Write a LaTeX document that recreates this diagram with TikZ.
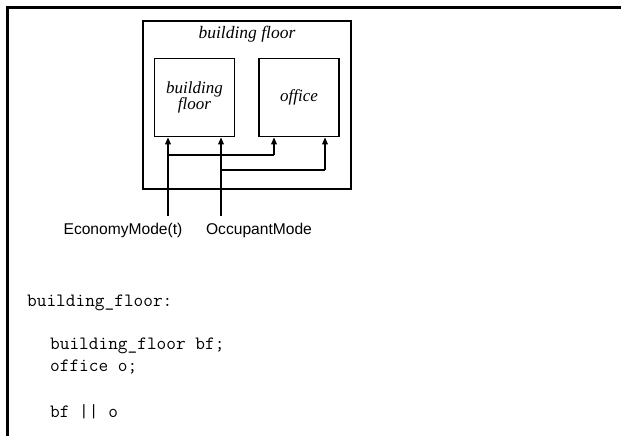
\documentclass[tikz,border=0pt]{standalone}
\usepackage{fontspec}
\setmainfont{Liberation Serif}
\setsansfont{Liberation Sans}
\usetikzlibrary{arrows.meta}
\begin{document}
\begin{tikzpicture}[x=1pt,y=-1pt,
  frameline/.style={line width=3pt},
  bigbox/.style={draw,line width=2.6pt,minimum width=208pt,minimum height=168pt,inner sep=0pt},
  compbox/.style={draw,line width=1.6pt,minimum width=80pt,minimum height=78pt,inner sep=0pt,align=center,
    font=\fontsize{17}{16}\selectfont\itshape},
  boxlabel/.style={font=\fontsize{17.5}{20}\selectfont\itshape},
  conn/.style={line width=1.6pt},
  arr/.style={conn,-{Triangle[length=7pt,width=5.5pt]}},
  sig/.style={font=\sffamily\fontsize{15.6}{18}\selectfont},
  code/.style={font=\ttfamily\fontsize{18.8}{22}\selectfont,anchor=base west,inner sep=0pt}]
\useasboundingbox (0,0) rectangle (621,436);
% page frame
\draw[frameline] (621,7.5) -- (7.5,7.5) -- (7.5,436);
% outer component
\node[bigbox] (outer) at (247,105) {};
\node[boxlabel] (outerlbl) at (247,34) {building floor};
\node[compbox] (bf) at (194.5,97.5) {building\\floor};
\node[compbox] (of) at (299,97.5) {office};
% free ends of the input signals
\coordinate (e1) at (168,216);
\coordinate (e2) at (221,216);
\coordinate (j1) at (168,155);
\coordinate (j2) at (221,170);
\coordinate (k1) at (274,155);
\coordinate (k2) at (325,170);
\draw[arr] (e1) -- (bf.south -| e1);
\draw[arr] (e2) -- (bf.south -| e2);
\draw[conn] (j1) -- (k1);
\draw[arr] (k1) -- (of.south -| k1);
\draw[conn] (j2) -- (k2);
\draw[arr] (k2) -- (of.south -| k2);
% signal names
\node[sig] (s1) at (123,230) {EconomyMode(t)};
\node[sig] (s2) at (259,230) {OccupantMode};
% code
\node[code] (c1) at (27,306) {building\_floor:};
\node[code] (c2) at (50,349) {building\_floor bf;};
\node[code] (c3) at (50,371) {office o;};
\node[code] (c4) at (50,417) {bf || o};
\end{tikzpicture}
\end{document}
